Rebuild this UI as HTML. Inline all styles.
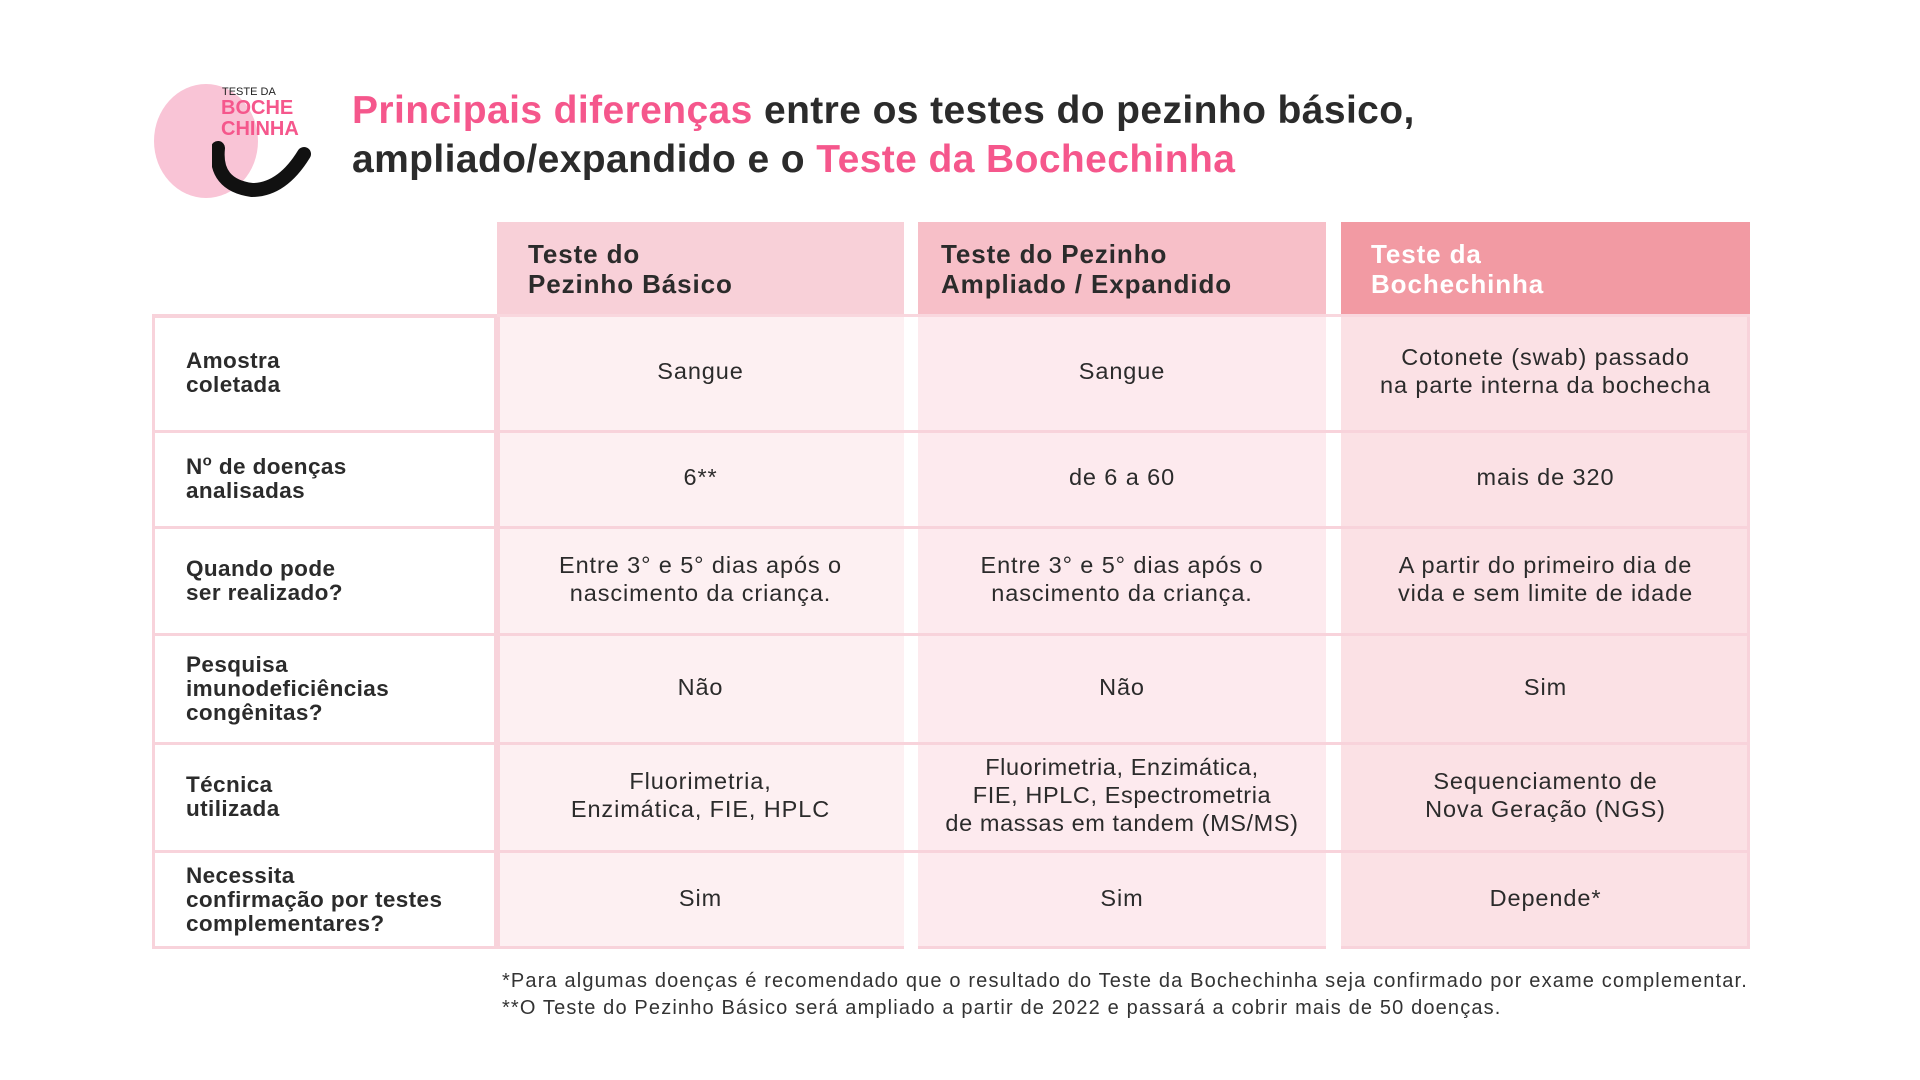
<!DOCTYPE html>
<html><head><meta charset="utf-8"><style>
body{margin:0;width:1920px;height:1080px;background:#fff;position:relative;overflow:hidden;font-family:"Liberation Sans",sans-serif;color:#2b2b2b}
.a{position:absolute}
.t{font-size:39px;font-weight:bold;line-height:49px;letter-spacing:0.4px}
.pk{color:#f5578c}
.h{font-size:26px;font-weight:bold;line-height:30px;letter-spacing:0.9px}
.c{display:flex;align-items:center;justify-content:center;text-align:center;font-size:23.5px;line-height:28px;box-sizing:border-box;letter-spacing:0.9px;padding-bottom:4px}
.l{display:flex;align-items:center;font-size:22.5px;font-weight:bold;line-height:24px;box-sizing:border-box;padding-left:34px;letter-spacing:0.4px}
.g{flex:none}
.hl{position:absolute;height:3px;background:#f8d3db}
</style></head><body>
<!-- logo -->
<div class="a" style="left:154px;top:84px;width:104px;height:114px;border-radius:50%;background:#f9c4d6"></div>
<div class="a" style="left:222px;top:86px;font-size:11px;color:#222">TESTE DA</div>
<div class="a pk" style="left:221px;top:98px;font-size:20px;font-weight:bold;line-height:21px">BOCHE<br>CHINHA</div>
<svg class="a" style="left:212px;top:140px" width="100" height="60"><path d="M6 8 Q2 45 40 50 Q70 50 92 14" stroke="#111" stroke-width="14" fill="none" stroke-linecap="round"/></svg>
<div class="a t" style="left:352px;top:86px"><span class="pk">Principais diferenças</span> entre os testes do pezinho básico,<br>ampliado/expandido e o <span class="pk">Teste da Bochechinha</span></div>
<!-- headers -->
<div class="a" style="left:497px;top:222px;width:407px;height:93px;background:#f8d0d8"></div>
<div class="a" style="left:918px;top:222px;width:408px;height:93px;background:#f7bfc8"></div>
<div class="a" style="left:1341px;top:222px;width:409px;height:93px;background:#f29aa3"></div>
<div class="a h" style="left:528px;top:239px">Teste do<br>Pezinho Básico</div>
<div class="a h" style="left:941px;top:239px">Teste do Pezinho<br>Ampliado / Expandido</div>
<div class="a h" style="left:1371px;top:239px;color:#fff">Teste da<br>Bochechinha</div>
<!-- body bg -->
<div class="a" style="left:152px;top:315px;width:345px;height:634px;background:#fff;border:3px solid #f8d3db;box-sizing:border-box"></div>
<div class="a" style="left:497px;top:315px;width:407px;height:634px;background:#fdf0f2;border-left:3px solid #f8d3db;border-bottom:3px solid #f8d3db;box-sizing:border-box"></div>
<div class="a" style="left:918px;top:315px;width:408px;height:634px;background:#fdeaee;border-bottom:3px solid #f8d3db;box-sizing:border-box"></div>
<div class="a" style="left:1341px;top:315px;width:409px;height:634px;background:#fbe1e5;border-right:3px solid #f8d3db;border-bottom:3px solid #f8d3db;box-sizing:border-box"></div>
<div class="hl" style="left:152px;top:314px;width:345px"></div>
<div class="hl" style="left:497px;top:314px;width:1253px;background:#f9d7de"></div>
<div class="hl" style="left:152px;top:430px;width:1598px"></div>
<div class="hl" style="left:152px;top:526px;width:1598px"></div>
<div class="hl" style="left:152px;top:633px;width:1598px"></div>
<div class="hl" style="left:152px;top:742px;width:1598px"></div>
<div class="hl" style="left:152px;top:850px;width:1598px"></div>
<!-- rows -->
<div class="a" style="left:152px;top:315px;width:1598px">
 <div style="display:flex;height:116px"><div class="l" style="width:345px"><span>Amostra<br>coletada</span></div><div class="c" style="width:407px">Sangue</div><div class="g" style="width:14px"></div><div class="c" style="width:408px">Sangue</div><div class="g" style="width:15px"></div><div class="c" style="width:409px">Cotonete (swab) passado<br>na parte interna da bochecha</div></div>
 <div style="display:flex;height:96px"><div class="l" style="width:345px"><span>N<sup style="font-size:15px;line-height:0">o</sup> de doenças<br>analisadas</span></div><div class="c" style="width:407px">6**</div><div class="g" style="width:14px"></div><div class="c" style="width:408px">de 6 a 60</div><div class="g" style="width:15px"></div><div class="c" style="width:409px">mais de 320</div></div>
 <div style="display:flex;height:107px"><div class="l" style="width:345px"><span>Quando pode<br>ser realizado?</span></div><div class="c" style="width:407px">Entre 3° e 5° dias após o<br>nascimento da criança.</div><div class="g" style="width:14px"></div><div class="c" style="width:408px">Entre 3° e 5° dias após o<br>nascimento da criança.</div><div class="g" style="width:15px"></div><div class="c" style="width:409px">A partir do primeiro dia de<br>vida e sem limite de idade</div></div>
 <div style="display:flex;height:109px"><div class="l" style="width:345px"><span>Pesquisa<br>imunodeficiências<br>congênitas?</span></div><div class="c" style="width:407px">Não</div><div class="g" style="width:14px"></div><div class="c" style="width:408px">Não</div><div class="g" style="width:15px"></div><div class="c" style="width:409px">Sim</div></div>
 <div style="display:flex;height:108px"><div class="l" style="width:345px"><span>Técnica<br>utilizada</span></div><div class="c" style="width:407px">Fluorimetria,<br>Enzimática, FIE, HPLC</div><div class="g" style="width:14px"></div><div class="c" style="width:408px;letter-spacing:0.6px">Fluorimetria, Enzimática,<br>FIE, HPLC, Espectrometria<br>de massas em tandem (MS/MS)</div><div class="g" style="width:15px"></div><div class="c" style="width:409px">Sequenciamento de<br>Nova Geração (NGS)</div></div>
 <div style="display:flex;height:98px"><div class="l" style="width:345px"><span>Necessita<br>confirmação por testes<br>complementares?</span></div><div class="c" style="width:407px">Sim</div><div class="g" style="width:14px"></div><div class="c" style="width:408px">Sim</div><div class="g" style="width:15px"></div><div class="c" style="width:409px">Depende*</div></div>
</div>
<div class="a" style="left:502px;top:968px;font-size:20px;line-height:27px;color:#333;letter-spacing:1.15px;white-space:nowrap">*Para algumas doenças é recomendado que o resultado do Teste da Bochechinha seja confirmado por exame complementar.<br>**O Teste do Pezinho Básico será ampliado a partir de 2022 e passará a cobrir mais de 50 doenças.</div>
</body></html>
